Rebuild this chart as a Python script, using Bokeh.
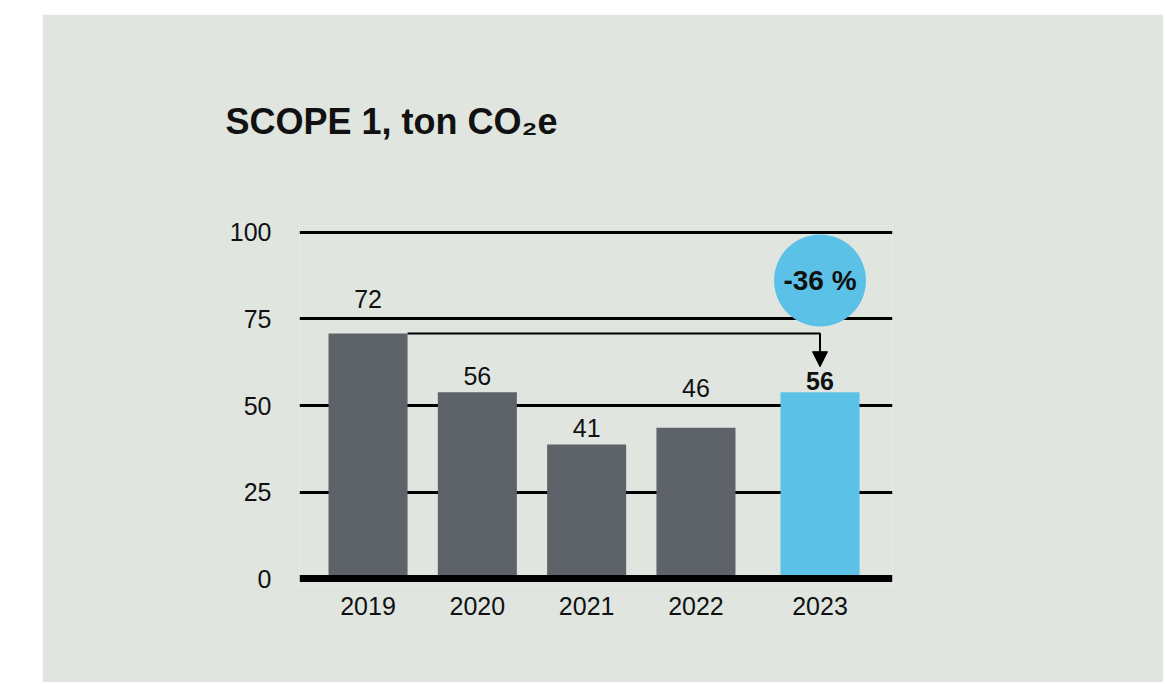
from bokeh.plotting import figure
from bokeh.models import FixedTicker, Span, Arrow, NormalHead, Range1d
from bokeh.embed import file_html
from bokeh.resources import INLINE
from bokeh.core.properties import value

# ---------------- data ----------------
years = ["2019", "2020", "2021", "2022", "2023"]
bar_values = [70.8, 53.8, 38.7, 43.6, 53.8]
value_labels = ["72", "56", "41", "46", "56"]
y_ticks = [0, 25, 50, 75, 100]
change_label = "-36 %"
title_text = "SCOPE 1, ton CO\u2082e"

# ---------------- layout / style ----------------
FONT = "Liberation Sans"
BG = "#e0e5e0"
GREY = "#5e6269"
BLUE = "#5bc1e7"
INK = "#111111"

gap_before_last = 0.135
xpos = [i + (gap_before_last if i == len(years) - 1 else 0) for i in range(len(years))]
bar_w = 0.723
label_mid_y = [80.8, 58.5, 43.4, 55.0, 57.2]
circle_y = 86.1
arrow_end_y = 61.2

W, H = 1121, 668
p = figure(width=W, height=H, output_backend="svg", toolbar_location=None,
           x_range=Range1d(-0.627, 4.798), y_range=Range1d(-2, 102),
           min_border_left=257, min_border_right=W - 257 - 593, min_border_top=211,
           min_border_bottom=H - 211 - 360)
p.styles = {"margin-left": "42px", "margin-top": "14px"}
p.background_fill_color = BG
p.border_fill_color = BG
p.outline_line_color = None

# title
p.title.text = title_text
p.title.align = "left"
p.title.offset = -74
p.title.text_font = FONT
p.title.text_font_size = "36px"
p.title.text_font_style = "bold"
p.title.text_color = INK
p.title.standoff = 168

# grid
p.xgrid.visible = False
p.ygrid.ticker = FixedTicker(ticks=y_ticks[1:])
p.ygrid.grid_line_color = "black"
p.ygrid.grid_line_width = 3

# y axis
p.yaxis.ticker = FixedTicker(ticks=y_ticks)
p.yaxis.axis_line_color = None
p.yaxis.major_tick_line_color = None
p.yaxis.minor_tick_line_color = None
p.yaxis.major_tick_out = 0
p.yaxis.major_tick_in = 0
p.yaxis.major_label_standoff = 28
p.yaxis.major_label_text_font = FONT
p.yaxis.major_label_text_font_size = "25px"
p.yaxis.major_label_text_color = INK

# x axis
p.xaxis.ticker = FixedTicker(ticks=xpos)
p.xaxis.major_label_overrides = {x: y for x, y in zip(xpos, years)}
p.xaxis.axis_line_color = None
p.xaxis.major_tick_line_color = None
p.xaxis.minor_tick_line_color = None
p.xaxis.major_tick_out = 0
p.xaxis.major_tick_in = 0
p.xaxis.major_label_standoff = 11
p.xaxis.major_label_text_font = FONT
p.xaxis.major_label_text_font_size = "25px"
p.xaxis.major_label_text_color = INK

# bars
colors = [GREY] * (len(years) - 1) + [BLUE]
p.vbar(x=xpos, top=bar_values, bottom=0, width=bar_w, fill_color=colors, line_color=None)

# baseline
p.add_layout(Span(location=0, dimension="width", line_color="black", line_width=7))

# value labels
p.text(x=xpos[:-1], y=label_mid_y[:-1], text=value_labels[:-1], text_align="center",
       text_baseline="middle", text_font=value(FONT), text_font_size="25px", text_color=INK)
p.text(x=xpos[-1:], y=label_mid_y[-1:], text=value_labels[-1:], text_align="center",
       text_baseline="middle", text_font=value(FONT), text_font_size="25px",
       text_font_style="bold", text_color=INK)

# connector arrow
x0 = xpos[0] + bar_w / 2
xe = xpos[-1]
p.line(x=[x0, xe, xe], y=[bar_values[0], bar_values[0], arrow_end_y + 3], line_color="black", line_width=2)
p.add_layout(Arrow(x_start=xe, y_start=arrow_end_y + 6, x_end=xe, y_end=arrow_end_y,
                   line_color="black", line_width=2,
                   end=NormalHead(size=15, fill_color="black", line_color="black", line_width=1)))

# change bubble
p.scatter(x=[xe], y=[circle_y], marker="circle", size=92, fill_color=BLUE, line_color=None)
p.text(x=[xe], y=[circle_y], text=[change_label], text_align="center", text_baseline="middle",
       text_font=value(FONT), text_font_size="28px", text_font_style="bold", text_color=INK)

open("out.html", "w").write(file_html(p, INLINE))
